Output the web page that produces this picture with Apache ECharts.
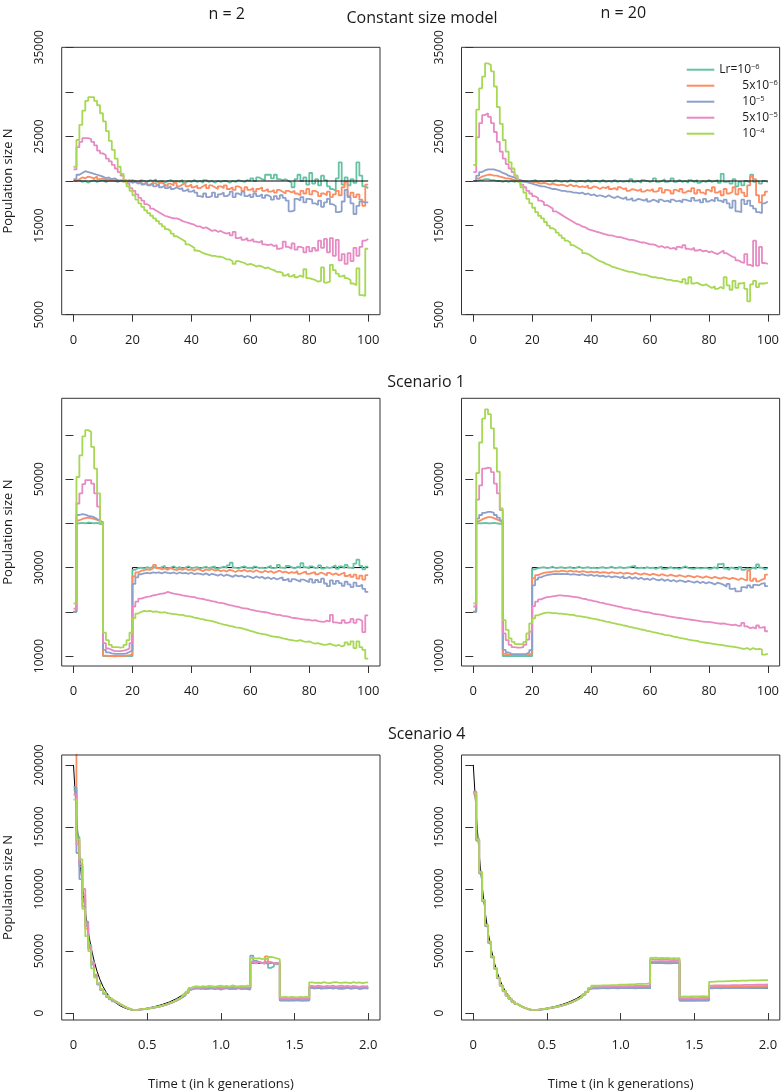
<!DOCTYPE html>
<html><head><meta charset="utf-8">
<script src="https://cdn.jsdelivr.net/npm/echarts@6/dist/echarts.min.js"></script>
<style>html,body{margin:0;padding:0;background:#fff}#c{width:782px;height:1092px}</style>
</head><body><div id="c"></div><script>
// ---------- time bins ----------
const tBins = [0,1,2,3,4,5,6,7,8,9,10,11,12,13,14,15,16,17,18,19,20,21,22,23,24,25,26,27,28,29,30,31,32,33,34,35,36,37,38,39,40,41,42,43,44,45,46,47,48,49,50,51,52,53,54,55,56,57,58,59,60,61,62,63,64,65,66,67,68,69,70,71,72,73,74,75,76,77,78,79,80,81,82,83,84,85,86,87,88,89,90,91,92,93,94,95,96,97,98,99,100];
const sBins = [0,0.02,0.04,0.06,0.08,0.1,0.12,0.14,0.16,0.18,0.2,0.22,0.24,0.26,0.28,0.3,0.32,0.34,0.36,0.38,0.4,0.42,0.44,0.46,0.48,0.5,0.52,0.54,0.56,0.58,0.6,0.62,0.64,0.66,0.68,0.7,0.72,0.74,0.76,0.78,0.8,0.82,0.84,0.86,0.88,0.9,0.92,0.94,0.96,0.98,1.0,1.02,1.04,1.06,1.08,1.1,1.12,1.14,1.16,1.18,1.2,1.22,1.24,1.26,1.28,1.3,1.32,1.34,1.36,1.38,1.4,1.42,1.44,1.46,1.48,1.5,1.52,1.54,1.56,1.58,1.6,1.62,1.64,1.66,1.68,1.7,1.72,1.74,1.76,1.78,1.8,1.82,1.84,1.86,1.88,1.9,1.92,1.94,1.96,1.98,2.0];

// ---------- tick labels ----------
const xTicksA = [0,20,40,60,80,100];
const xTicksB = [0,0.5,1,1.5,2];
const yTicksC = [5000,10000,15000,20000,25000,30000,35000];
const yLabelsC = [5000,15000,25000,35000];
const yTicksS1 = [10000,20000,30000,40000,50000,60000];
const yLabelsS1 = [10000,30000,50000];
const yTicksS4 = [0,50000,100000,150000,200000];

// ---------- legend ----------
const seriesNames = ['Lr=10^-6','5x10^-6','10^-5','5x10^-5','10^-4'];
const legendText = ['{a|Lr=10}{s|\u22126}','{p|}{a|5x10}{s|\u22126}','{p|}{a|10}{s|\u22125}','{p|}{a|5x10}{s|\u22125}','{p|}{a|10}{s|\u22124}'];

// ---------- truth lines ----------
const truthT0 = [0,100];
const truthN0 = [20000,20000];
const truthT1 = [0,1,10,20,100];
const truthN1 = [20000,40000,10000,30000,30000];
const truthT4 = [0,0.02,0.04,0.06,0.08,0.1,0.12,0.14,0.16,0.18,0.2,0.22,0.24,0.26,0.28,0.3,0.32,0.34,0.36,0.38,0.4,0.45,0.5,0.55,0.6,0.65,0.7,0.75,0.8,1.2,1.2,1.4,1.4,1.6,1.6,2.0];
const truthN4 = [200000,160000,128000,102500,82000,65600,52500,42000,33600,26900,21500,17200,13800,11000,8800,7100,5600,4500,3600,2900,2300,3000,3950,5200,6800,8900,11700,15300,20000,20000,40000,40000,10000,10000,20000,20000];

// ---------- Constant size model, n = 2 ----------
const c2_teal = [20000,20100,19900,20000,19800,20000,20100,19900,20000,20100,
19900,20000,20100,20000,19900,20000,20100,20000,19900,20100,
20000,19900,20100,20000,19900,20100,20000,20200,19900,20000,
19800,20000,20100,19900,20000,19900,20100,19800,20000,19900,
20100,19900,20000,19800,20100,19900,20000,19800,20000,19900,
20000,20000,19800,20000,19900,20100,20000,19900,20100,20000,
20300,20000,20400,20200,20100,20700,20700,20300,20700,20200,
20100,20200,20000,19800,19300,20200,20700,20000,20400,19600,
20900,19700,20200,19500,20600,20100,19400,19100,18900,20300,
22100,19600,20400,19500,20200,19800,22100,20600,19400,19200];
const c2_orange = [20000,20200,20400,20300,20500,20400,20300,20500,20200,20300,
20100,20200,20000,20100,20000,20100,19900,20000,20100,19900,
20000,19800,20000,19700,19900,19600,19800,19700,19500,19800,
19600,19400,19700,19500,19800,19400,19600,19800,19400,19600,
19300,19500,19200,19400,19600,19200,19500,19300,19100,19400,
19200,19500,19100,19300,19000,19400,19200,18900,19300,19000,
19200,18800,19100,19300,18900,19100,18800,19000,18700,19000,
18800,18600,18900,18700,18900,18600,18400,18900,18600,19100,
18500,18900,18700,18300,18600,18400,18800,18200,18500,18900,
18400,19300,19900,18300,18700,18200,18500,17900,17200,19600];
const c2_blue = [20200,20700,20900,21100,21000,20900,20800,20700,20600,20500,
20300,20400,20200,20300,20100,20000,20100,19900,20000,19800,
19900,19700,19900,19600,19800,19500,19700,19400,19600,19300,
19500,19200,19400,19100,19300,19100,19200,18900,19100,18800,
19000,18700,18300,18200,18600,18200,18300,18700,18200,18500,
18700,18300,18500,18800,18200,18600,18400,18800,18300,18500,
18200,18600,18300,18500,18100,18400,18200,17900,18300,18000,
18400,18100,17800,16600,16700,18000,17800,18200,17600,18000,
17900,17500,17300,17800,17100,17600,18000,17400,17200,16500,
16600,17700,19000,18200,17500,16300,17200,17700,17600,17600];
const c2_pink = [21300,23800,24400,24800,24800,24700,24400,24000,23400,23100,
22900,22500,22200,21800,21400,21000,20600,20100,19700,19200,
18900,18500,18100,17800,17400,17200,16900,16700,16500,16300,
16100,16000,15900,15800,15800,15700,15500,15400,15300,15200,
15100,14900,14900,14700,14800,14600,14400,14500,14300,14400,
14200,14100,14200,13900,14300,13600,13700,13400,13600,13300,
13500,13200,13100,13300,12900,12800,12900,12700,12800,12400,
12500,13200,12600,12400,13000,12300,12600,12500,12000,12600,
12100,12500,12200,13300,12500,13500,12000,13600,11600,13400,
11100,11800,10700,11900,11000,12500,11600,12600,13300,13500];
const c2_green = [21600,24600,26300,27900,29000,29400,29400,29000,28500,27600,
26700,25600,24500,23500,22500,21600,20800,20100,19400,18900,
18400,17900,17500,17100,16700,16400,16100,15800,15500,15200,
14900,14600,14400,14100,13800,13600,13400,13200,12900,12700,
12500,12200,12100,11900,11800,11700,11600,11600,11500,11500,
11400,11200,11200,11000,10700,11000,10900,10800,10600,10700,
10600,10400,10500,10400,10200,10300,10100,10000,9800,9800,
9700,9400,9600,9300,9500,9200,9400,9200,10100,9100,
9000,8900,8700,8800,10300,8600,8700,10600,10000,9600,
9300,9400,9100,8900,8500,8300,10200,7200,7100,12400];

// ---------- Constant size model, n = 20 ----------
const c20_teal = [20000,20100,20100,20200,20200,20100,20100,20000,20000,19900,
20000,19900,20000,19900,20000,20000,19900,20000,19900,20000,
20100,19900,20000,19900,20000,20000,19900,20100,20000,19900,
20000,19900,20100,20000,19900,20000,20000,19900,20100,19900,
20000,20000,19900,20100,19900,20000,19900,20100,19900,20000,
19900,20000,19900,20200,19900,20000,19800,20100,20000,19900,
20000,20300,19900,20000,20200,19900,20000,20300,19900,20100,
19900,20000,19800,20100,19900,20100,19800,20000,19900,20100,
19900,20000,20100,19800,20800,19900,20000,19700,20200,19400,
19900,19500,20000,19800,20700,19900,20000,19700,20000,19900];
const c20_orange = [20000,20300,20500,20600,20700,20700,20600,20600,20500,20400,
20300,20300,20200,20100,20100,20000,20000,19900,19900,19800,
19900,19800,19700,19800,19700,19600,19700,19600,19500,19600,
19500,19400,19600,19400,19500,19300,19400,19300,19500,19200,
19400,19300,19100,19300,19200,19400,19100,19200,19000,19300,
19100,19200,18900,19100,19000,18900,19100,18800,19000,18900,
19100,18800,18900,19200,18700,19000,18900,18600,19000,18800,
19100,18700,18900,18800,19200,18600,19000,18700,18500,19000,
18800,19300,18700,18900,18400,19100,18600,18800,19300,18500,
19100,18700,18300,19500,20500,20200,18400,17600,18400,18800];
const c20_blue = [20000,20600,21000,21200,21300,21300,21300,21200,21100,20900,
20800,20600,20500,20400,20200,20100,20000,19900,19800,19700,
19600,19500,19400,19400,19300,19200,19100,19100,19000,18900,
18900,18800,18800,18700,18700,18600,18700,18500,18600,18400,
18500,18300,18400,18300,18200,18400,18200,18100,18300,18100,
18000,18200,17900,18100,17800,18000,17900,17800,18000,17700,
17900,17800,17600,17900,17700,17800,17600,17900,17700,17800,
17600,17900,17800,17700,18100,17800,17900,17600,18000,17700,
17900,17700,18100,17800,17600,17900,17500,17000,17800,16600,
16500,17900,17400,17800,17200,16900,16500,16400,17500,17700];
const c20_pink = [21000,24900,26500,27400,27600,27200,26500,25500,24400,23300,
22500,21900,21400,21000,20600,20100,19600,19300,18900,18600,
18300,18100,17800,17600,17300,17100,16900,16600,16400,16200,
16000,15800,15600,15400,15200,15100,14900,14800,14600,14500,
14400,14300,14200,14100,14000,13900,13900,13800,13700,13700,
13600,13500,13400,13400,13300,13200,13100,13100,13000,12900,
12900,12800,12600,12700,12500,12600,12400,12500,12300,12600,
12500,12800,12400,12300,12500,12200,12300,12100,12200,12000,
12100,11900,11800,12000,12200,11900,11700,11500,11400,11100,
10900,10800,11800,10600,10400,13300,10500,12600,10800,10700];
const c20_green = [21800,28000,30400,31700,33200,33000,32300,30600,28300,26400,
24600,23300,22100,21400,20600,19900,19300,18700,18000,17500,
17000,16500,16100,15800,15400,15000,14700,14500,14200,13900,
13600,13300,13100,12800,12600,12400,12200,11900,11800,11600,
11400,11200,11000,10900,10700,10600,10400,10300,10200,10100,
10000,9900,9800,9800,9700,9600,9500,9500,9400,9300,
9200,9200,9100,9100,9000,8900,8900,8800,8800,8700,
8600,9000,8500,9200,8500,8600,8400,8300,8400,8200,
8000,8200,7900,8100,7900,9200,8300,7800,8800,8000,
8500,8600,7900,6500,8400,8800,8100,8500,8500,8600];

// ---------- Scenario 1, n = 2 ----------
const s2_teal = [20000,40000,40100,40000,40200,40100,40000,40100,39900,39800,
10000,10000,10000,10000,10000,10000,10000,10000,10000,10000,
29500,29900,30000,29800,30100,29900,30200,30000,29800,30100,
30400,29900,30000,30300,29900,30100,29800,30000,30300,29900,
30000,30100,29800,30000,30200,29900,30100,30300,29800,30000,
30200,30000,30500,31100,30000,29800,30100,30300,29900,30000,
29700,30200,29900,30000,29800,30100,30400,29900,30000,30600,
30000,29900,30400,30100,29800,30200,30000,31000,30100,29800,
30300,29900,30000,30500,29800,30100,29900,30200,30500,29700,
30300,29900,30600,30000,29800,30900,31800,30400,29600,30200];
const s2_orange = [20100,40700,41000,41200,41300,41200,41000,40800,40500,40300,
10100,10000,10000,9900,10000,10000,10000,10100,10200,10400,
28000,28900,29300,29400,29600,29500,29800,30600,29900,29600,
29800,29500,29900,29600,29400,29700,29500,29800,29400,29600,
29300,29700,29500,29200,29600,29400,29700,29300,29500,29200,
29400,29100,29500,29300,29000,29400,29200,29500,29100,29300,
29000,29400,29100,28900,29300,29000,29200,28800,29100,29300,
28900,29100,28700,29000,28800,29200,28600,28900,29100,28600,
28800,29000,28500,28900,28600,28200,28800,28400,28700,28300,
28600,28900,28100,28500,27900,28400,27500,28200,27300,28300];
const s2_blue = [20000,41900,42100,42000,41700,41600,41400,41000,40600,40200,
11400,10800,10600,10500,10500,10500,10500,10600,10900,11300,
26300,27800,28500,28700,28800,28700,28900,28800,28900,28700,
29000,28800,28700,28900,28600,28900,28700,28800,28600,28900,
28500,28700,28600,28400,28700,28300,28600,28400,28200,28500,
28100,28400,28200,27900,28300,28000,28200,27800,28100,27900,
27600,28000,27700,27900,27500,27800,27400,27700,27300,27600,
27800,27200,27500,26900,27400,27100,26800,27300,27000,26700,
27400,26600,27200,26700,27500,26400,25800,27100,26300,27000,
26500,25900,26800,26200,25600,26600,25800,26100,25200,24500];
const s2_pink = [20700,44500,46800,48900,49800,49800,49000,46800,43800,40000,
12900,11700,11400,11100,11100,11100,11200,11400,11700,12900,
21200,22300,23000,23200,23400,23500,23700,23800,24000,24100,
24200,24500,24300,24100,24000,23900,23700,23600,23500,23400,
23300,23100,23000,22900,22700,22600,22400,22300,22100,22000,
21900,21700,21500,21400,21200,21100,20900,20800,20700,20500,
20400,20200,20100,20000,19900,19800,19600,19500,19300,19300,
19100,19000,18900,18700,18600,18500,18400,18300,18200,18200,
18000,18100,17900,17800,17700,18000,17800,19300,17600,17500,
17400,18100,17500,17700,18400,17500,18300,17900,15400,19200];
const s2_green = [21900,50500,55400,59700,61100,60700,57300,52400,46800,40100,
15300,13600,12500,12000,12000,11900,12000,12500,13600,15300,
18600,19600,20000,20200,20100,20200,20000,20100,19900,19800,
19900,19700,19600,19500,19400,19300,19300,19100,19000,18900,
18700,18600,18400,18300,18100,18000,17900,17700,17500,17300,
17100,17000,16800,16700,16500,16400,16300,16100,15900,15700,
15500,15300,15100,15000,14900,14700,14500,14400,14300,14200,
14000,13900,13700,13600,13500,13400,13600,13300,13200,13300,
13000,12800,12900,12700,12500,12600,12800,12500,12300,12500,
12200,12400,13100,12600,13300,11800,13300,12000,11400,9400];

// ---------- Scenario 1, n = 20 ----------
const s20_teal = [20000,40000,40000,40100,40000,40000,40100,40000,39900,39900,
10000,10000,10000,10000,10000,10000,10000,10000,10000,10000,
29600,29900,30000,30100,29900,30000,30200,29900,30000,30100,
29900,30000,30100,29800,30000,30200,29900,30000,30100,29900,
30000,29800,30000,30100,29900,30000,30200,29900,30000,30100,
29900,30000,30100,30300,30400,29900,30000,29800,30100,29900,
30000,29700,30000,30200,29700,29800,30100,29800,29900,29700,
30000,30300,29900,29800,29700,30000,29800,29900,30000,29700,
29800,30100,29700,30800,30900,29800,29500,30000,29700,29600,
30100,29500,29800,29600,30000,29700,30700,30000,29600,29900];
const s20_orange = [20100,40500,40900,41200,41400,41400,41200,40900,40600,40300,
10500,10300,10300,10200,10200,10200,10200,10300,10400,10600,
27600,28300,28600,28800,28900,29000,29100,29200,29100,29300,
29200,29100,29300,29100,29200,29000,29200,29100,28900,29100,
28900,29100,28800,29000,28900,28700,29000,28800,28700,28900,
28600,28800,28700,28500,28800,28600,28400,28700,28500,28300,
28600,28400,28200,28500,28300,28100,28400,28200,28000,28300,
28100,27900,28200,28000,27800,28100,27900,27700,28000,27800,
27600,27900,27700,27500,27800,27600,27400,27700,27500,27200,
27600,27300,27100,29300,27000,27500,26900,27300,27500,28400];
const s20_blue = [20000,41100,41900,42400,42600,42600,42400,41900,41300,40700,
11400,10800,10500,10400,10400,10400,10400,10500,10800,11300,
26000,27300,27800,28100,28300,28400,28500,28600,28500,28600,
28500,28600,28400,28500,28400,28300,28500,28300,28200,28400,
28100,28300,28000,28200,27900,28100,27800,28000,27900,27700,
28100,27600,27900,27500,27800,27400,27700,27300,27500,27200,
27600,27300,27100,27400,27000,27300,26900,27200,26800,27100,
27000,26700,27000,26800,26600,26900,26500,26800,26400,26700,
26500,26200,26600,26400,26100,25700,26300,25200,25300,24600,
24700,25600,25400,26000,25500,26100,26000,26400,26500,25800];
const s20_pink = [21200,45400,48600,52400,52600,52500,51600,49000,46800,43000,
15100,13600,12500,12000,11900,11900,12000,12500,13700,15500,
21300,22300,22800,23100,23300,23400,23500,23600,23700,23700,
23600,23600,23500,23400,23300,23200,23000,22900,22700,22600,
22400,22300,22100,22000,21800,21700,21500,21400,21200,21100,
20900,20800,20700,20500,20400,20300,20100,20000,19900,19800,
19600,19500,19400,19300,19200,19000,18900,18800,18700,18600,
18500,18400,18300,18200,18100,18000,17900,17800,17700,17700,
17600,17500,17400,17300,17400,17200,17100,17000,17100,16800,
16900,17500,16700,16300,16500,16200,16900,16400,16600,15600];
const s20_green = [21900,51400,58300,63700,65800,64700,61500,57000,51700,43400,
18100,15900,14000,13200,12700,12700,12700,13200,15100,17400,
18500,19200,19500,19700,19800,19800,19700,19700,19600,19600,
19500,19400,19300,19300,19100,19000,18900,18800,18700,18500,
18400,18300,18100,18000,17800,17700,17500,17400,17200,17100,
16900,16800,16600,16500,16300,16200,16000,15900,15700,15600,
15400,15300,15100,15000,14800,14700,14600,14400,14300,14100,
14000,13900,13700,13600,13500,13400,13200,13100,13000,12900,
12800,12700,12600,12500,12400,12300,12200,12100,12000,11900,
11700,11600,11800,11400,11800,11500,11600,11500,10300,10500];

// ---------- Scenario 4, n = 2 ----------
const f2_teal = [180000,142000,118000,92000,70000,55000,41000,31000,24000,19000,
15800,13200,11200,9500,8100,6800,5500,4400,3400,2600,
2300,2600,2900,3200,3500,3900,4300,4700,5200,5800,
6500,7300,8100,9100,10200,11400,12800,14400,16400,19000,
20100,19700,20300,19800,20000,19500,20200,19900,19600,20300,
19800,20100,19700,20000,19400,20200,19800,19500,20100,19900,
41000,40500,41300,40200,40800,39800,36400,37500,40500,39900,
10800,11000,10600,10900,10700,11100,10800,10500,10900,10700,
20600,20300,20800,20100,20500,20900,20200,20600,20400,20700,
19500,20300,20600,20000,20800,20300,19600,20500,20100,20400];
const f2_orange = [215000,140000,120000,95000,68000,54000,40000,30500,23800,19200,
16000,13400,11400,9700,8300,6900,5600,4400,3400,2600,
2300,2600,2900,3200,3500,3900,4300,4800,5300,5900,
6500,7300,8200,9200,10300,11500,12900,14600,16600,19300,
20400,20000,20600,20100,20500,19800,20300,20700,20000,20400,
19900,20600,20200,20500,20000,20300,20800,20100,19700,20400,
40800,40200,41100,40500,39800,45700,41000,40300,39600,40600,
11200,11400,11000,11300,11100,11500,11200,10900,11300,11100,
21000,20600,21300,20800,21200,20500,21100,20700,21400,20900,
20600,21200,20800,21000,20500,21300,20700,21100,20900,20600];
const f2_blue = [182000,129000,108000,86000,73600,52000,39000,29500,23000,18500,
15500,13000,11000,9400,8000,6700,5400,4300,3300,2600,
2300,2600,2900,3200,3500,3800,4200,4700,5200,5800,
6400,7200,8000,9000,10100,11300,12700,14300,16300,18800,
19500,20100,19400,19900,19200,20300,19700,19300,20000,18800,
19600,20200,19300,19800,19500,20000,19200,19900,19400,18900,
46300,42000,41200,40300,41000,39500,40600,40000,39200,40500,
10300,10500,10100,10400,10200,10600,10300,10000,10400,10200,
20200,19800,20400,19600,20100,19900,20500,19700,20200,19500,
20000,19800,20300,19600,19900,20200,19400,19800,20100,19700];
const f2_pink = [176000,136000,120000,100000,72000,53000,40000,30000,23500,19000,
16000,13500,11500,9800,8400,7000,5700,4500,3500,2700,
2400,2600,2900,3200,3500,3900,4300,4700,5200,5800,
6500,7200,8100,9100,10200,11400,12800,14500,16500,19200,
20600,21000,20400,20900,20500,21200,20700,20300,21000,20600,
20200,20900,20500,21300,20400,20800,20300,21000,20600,20800,
40500,40000,41000,40300,39800,41500,40800,40200,39600,40400,
11800,12100,11600,12000,11700,12200,11800,11500,12000,11900,
21900,21500,22100,21700,21300,22000,21600,22200,21400,21800,
22100,21500,21900,21300,22000,21600,21200,21800,21500,21700];
const f2_green = [172000,140000,124000,84000,62000,50000,36000,28500,24000,19500,
16500,13800,11800,10200,8700,7200,5900,4600,3500,2700,
2400,2700,3000,3300,3600,4000,4400,4900,5400,6000,
6700,7500,8400,9400,10500,11800,13200,15000,17200,20300,
21300,21600,21200,21800,21400,22000,21600,21300,21800,22100,
21500,21900,21400,22400,21700,21500,21900,21600,22200,21800,
44400,43800,44200,43500,44000,43200,45200,44800,44000,43400,
12800,13000,12700,13100,12900,12600,13000,12800,13100,12900,
24800,24300,24600,24100,24900,24400,24200,24700,25000,24500,
24300,24800,24600,24100,24900,24400,24700,24200,24500,24800];

// ---------- Scenario 4, n = 20 ----------
const f20_teal = [178000,140500,113000,90500,70500,57000,45200,36000,28100,22200,
17700,14100,11400,9100,7300,5900,4700,3700,2900,2400,
2300,2600,2800,3100,3500,3900,4300,4800,5300,5900,
6600,7400,8300,9300,10400,11700,13100,14800,16900,19800,
20000,20100,20000,20200,20100,20000,20200,20100,20000,20200,
20100,20300,20100,20200,20000,20200,20100,20300,20200,20100,
40800,40600,40900,40700,40500,40800,40600,40900,40700,40500,
10100,10200,10100,10200,10100,10200,10100,10200,10100,10200,
20200,20100,20300,20200,20100,20300,20200,20400,20300,20200,
20300,20400,20300,20500,20400,20300,20500,20400,20500,20600];
const f20_orange = [176500,139000,113500,91000,70800,57300,45500,36200,28300,22300,
17800,14200,11400,9200,7400,5900,4700,3800,3000,2400,
2300,2600,2900,3200,3600,4000,4400,4900,5400,6000,
6700,7500,8400,9400,10500,11800,13200,14900,17000,20000,
20600,20700,20600,20800,20700,20800,20900,20800,20900,21000,
20900,21000,21100,21000,21100,21200,21100,21200,21300,21200,
41500,41700,41400,41600,41300,41500,41200,41400,41100,41300,
11000,11100,11000,11200,11100,11100,11200,11300,11200,11300,
20900,21000,21000,21100,21100,21200,21200,21300,21300,21300,
21400,21400,21500,21500,21600,21600,21600,21700,21700,21800];
const f20_blue = [178500,139500,112500,90000,70000,56500,45000,35800,28000,22100,
17600,14000,11300,9100,7300,5800,4600,3700,2900,2400,
2300,2500,2800,3100,3500,3900,4300,4800,5300,5900,
6600,7400,8300,9300,10400,11700,13100,14800,16900,19800,
20100,20000,20200,20100,20000,20200,20100,20300,20200,20100,
20300,20200,20400,20300,20200,20400,20300,20500,20400,20500,
40300,40500,40200,40400,40100,40300,40000,40200,40400,40100,
10300,10400,10300,10400,10300,10500,10400,10400,10500,10400,
20000,20100,20100,20000,20200,20100,20200,20100,20300,20200,
20200,20300,20200,20400,20300,20300,20400,20300,20400,20500];
const f20_pink = [178000,139000,113000,90500,70500,57000,45300,36000,28200,22300,
17800,14200,11500,9200,7400,5900,4700,3800,3000,2400,
2300,2600,2900,3200,3600,4000,4400,4900,5400,6000,
6700,7500,8400,9400,10500,11800,13200,14900,17000,20000,
21200,21300,21200,21400,21300,21500,21400,21600,21500,21600,
21700,21600,21800,21700,21900,21800,22000,21900,22000,22100,
43000,43200,42900,43100,42800,43000,42700,42900,42600,42800,
12000,12100,12000,12200,12100,12100,12200,12300,12200,12300,
22100,22200,22200,22300,22300,22400,22400,22500,22500,22600,
22600,22700,22700,22800,22800,22900,22900,23000,23000,23100];
const f20_green = [177000,140000,113600,91000,71000,57700,45700,36400,28500,22500,
18000,14400,11600,9300,7500,6000,4800,3900,3100,2500,
2400,2700,3000,3300,3700,4100,4500,5000,5500,6100,
6800,7600,8500,9500,10600,11900,13400,15100,17200,20300,
22000,22100,22100,22300,22400,22400,22600,22600,22700,22900,
22900,23000,23200,23200,23300,23500,23500,23600,23800,24100,
44400,44600,44300,44500,44200,44400,44100,44300,44000,44200,
13300,13400,13300,13500,13400,13400,13500,13600,13500,13600,
25200,25400,25500,25600,25600,25800,25800,25900,26000,26000,
26100,26100,26200,26300,26300,26400,26400,26500,26600,26600];

// ================= build chart =================
const FONT = '"Open Sans","DejaVu Sans",sans-serif';
const COLORS = ['#66C2A5','#FC8D62','#8DA0CB','#E78AC3','#A6D854'];
const TXT = '#1a1a1a';

const panels = [
  {xs:tBins, sets:[c2_teal,c2_orange,c2_blue,c2_pink,c2_green], tT:truthT0, tN:truthN0, tStep:'end', tZ:5},
  {xs:tBins, sets:[c20_teal,c20_orange,c20_blue,c20_pink,c20_green], tT:truthT0, tN:truthN0, tStep:'end', tZ:5},
  {xs:tBins, sets:[s2_teal,s2_orange,s2_blue,s2_pink,s2_green], tT:truthT1, tN:truthN1, tStep:'end', tZ:1},
  {xs:tBins, sets:[s20_teal,s20_orange,s20_blue,s20_pink,s20_green], tT:truthT1, tN:truthN1, tStep:'end', tZ:1},
  {xs:sBins, sets:[f2_teal,f2_orange,f2_blue,f2_pink,f2_green], tT:truthT4, tN:truthN4, tStep:false, tZ:1},
  {xs:sBins, sets:[f20_teal,f20_orange,f20_blue,f20_pink,f20_green], tT:truthT4, tN:truthN4, tStep:false, tZ:1}
];
const gridBox = [
  [61.7,47.3,318.3,267.4],[461.5,47.3,318.3,267.4],
  [61.7,398.3,318.3,267.7],[461.5,398.3,318.3,267.7],
  [61.7,755,318.3,267.7],[461.5,755,318.3,267.7]
];
const yRange = [[5000,35000],[5000,35000],[7740,68300],[7740,68300],[-5585,207980],[-5585,207980]];
const yTickSets = [yTicksC,yTicksC,yTicksS1,yTicksS1,yTicksS4,yTicksS4];
const yLabelSets = [yLabelsC,yLabelsC,yLabelsS1,yLabelsS1,yTicksS4,yTicksS4];

const grid = [], xAxis = [], yAxis = [], series = [];
panels.forEach((p, i) => {
  const b = gridBox[i];
  grid.push({left:b[0], top:b[1], width:b[2], height:b[3], show:true, borderColor:'#333', borderWidth:1, backgroundColor:'transparent', z:10});
  const bottom = i >= 4;
  const xt = bottom ? xTicksB : xTicksA;
  xAxis.push({
    type:'value', gridIndex:i,
    min: bottom ? -0.08 : -4, max: bottom ? 2.08 : 104,
    axisLine:{show:false}, splitLine:{show:false},
    axisTick:{show:true, length:7, customValues:xt, lineStyle:{color:'#333', width:1}},
    axisLabel:{show:true, customValues:xt, margin:19, fontSize:13, color:TXT, fontFamily:FONT,
      formatter: v => bottom ? (v === 0 ? '0' : v.toFixed(1)) : String(v)},
    name: bottom ? 'Time t (in k generations)' : '', nameLocation:'middle', nameGap:58,
    nameTextStyle:{fontSize:13, color:TXT, fontFamily:FONT}
  });
  const left = (i % 2 === 0);
  yAxis.push({
    type:'value', gridIndex:i, min:yRange[i][0], max:yRange[i][1],
    axisLine:{show:false}, splitLine:{show:false},
    axisTick:{show:true, length:8, customValues:yTickSets[i], lineStyle:{color:'#333', width:1}},
    axisLabel:{show:true, customValues:yLabelSets[i], rotate:90, margin:16, fontSize:12, color:TXT, fontFamily:FONT,
      formatter: v => String(v)},
    name: left ? 'Population size N' : '', nameLocation:'middle', nameRotate:90, nameGap:47,
    nameTextStyle:{fontSize:13, color:TXT, fontFamily:FONT}
  });
  series.push({type:'line', name:'truth', xAxisIndex:i, yAxisIndex:i,
    data:p.tT.map((t, j) => [t, p.tN[j]]), step:p.tStep, symbol:'none', showSymbol:false, clip:true, z:p.tZ,
    lineStyle:{color:'#000', width:1}, itemStyle:{color:'#000'}, emphasis:{disabled:true}});
  p.sets.forEach((vals, k) => {
    const data = vals.map((v, j) => [p.xs[j], v]);
    data.push([p.xs[vals.length], vals[vals.length - 1]]);
    series.push({type:'line', name:seriesNames[k], xAxisIndex:i, yAxisIndex:i, data, step:'end',
      symbol:'none', showSymbol:false, clip:true, z:2,
      lineStyle:{color:COLORS[k], width:1.8}, itemStyle:{color:COLORS[k]}, emphasis:{disabled:true}});
  });
});

const titleStyle = {fontSize:16, fontWeight:'normal', color:TXT, fontFamily:FONT};
const option = {
  animation:false,
  backgroundColor:'#fff',
  title:[
    {text:'n = 2', left:221.7, top:1, textAlign:'center', textStyle:titleStyle},
    {text:'n = 20', left:618.3, top:0, textAlign:'center', textStyle:titleStyle},
    {text:'Constant size model', left:417, top:5, textAlign:'center', textStyle:titleStyle},
    {text:'Scenario 1', left:421, top:369, textAlign:'center', textStyle:titleStyle},
    {text:'Scenario 4', left:421.7, top:721, textAlign:'center', textStyle:titleStyle}
  ],
  legend:{
    data:seriesNames, orient:'vertical', left:681.7, top:57.7,
    itemWidth:27.6, itemHeight:2, itemGap:3, icon:'rect', selectedMode:false,
    formatter: name => legendText[seriesNames.indexOf(name)],
    textStyle:{fontFamily:FONT, color:TXT, rich:{
      a:{fontSize:12, lineHeight:14, color:TXT, fontFamily:FONT},
      s:{fontSize:7.5, lineHeight:8, verticalAlign:'top', color:TXT, fontFamily:FONT},
      p:{width:23}
    }}
  },
  grid, xAxis, yAxis, series
};
const chart = echarts.init(document.getElementById('c'), null, {renderer:'canvas'});
chart.setOption(option);
</script></body></html>
